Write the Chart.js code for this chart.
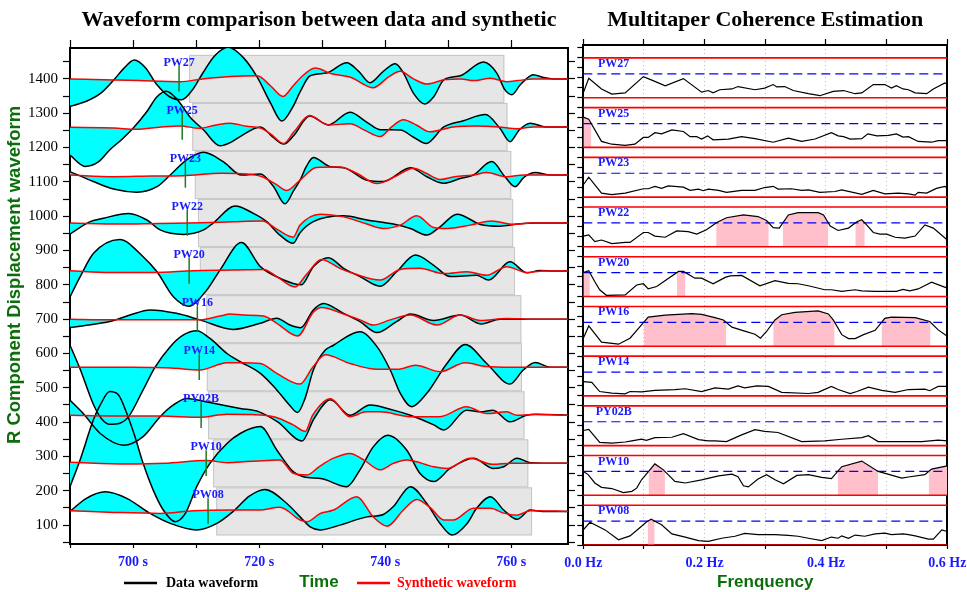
<!DOCTYPE html>
<html>
<head>
<meta charset="utf-8">
<script src="https://cdn.jsdelivr.net/npm/chart.js"></script>
<style>
  html, body { margin: 0; padding: 0; background: #fff; }
  #wrap { position: relative; width: 967px; height: 592px; overflow: hidden; }
  #wave { position: absolute; left: 0; top: 0; }
  #coh { position: absolute; left: 540px; top: 0; }
</style>
</head>
<body>
<div id="wrap">
  <canvas id="wave" width="575" height="592"></canvas>
  <canvas id="coh" width="427" height="592"></canvas>
</div>
<script>
// Station order, top to bottom
const traceNames = ['PW27', 'PW25', 'PW23', 'PW22', 'PW20', 'PW16', 'PW14', 'PY02B', 'PW10', 'PW08'];
const traceOffsets = [1400, 1260, 1120, 980, 840, 700, 560, 420, 280, 140];

// Time windows (s) and picks
const windowStart = [708.9, 709.4, 709.8, 710.3, 710.6, 711.6, 711.7, 711.9, 712.7, 713.2];
const windowEnd = [758.9, 759.4, 760.0, 760.3, 760.6, 761.6, 761.7, 762.1, 762.7, 763.3];
const pickTimes = [707.3, 707.8, 708.3, 708.6, 708.9, 710.2, 710.5, 710.8, 711.6, 711.9];

// Data waveforms [time, amplitude]
const dataPW27 = [[690,-80],[692.5,-66],[695,-40],[697,-2],[698.5,30],[700.2,55],[702,32],[703.7,-15],[705.8,-52],[707.7,-61],[709.5,-30],[711,15],[713,68],[715.1,92],[717.5,62],[719.7,5],[721.8,-70],[723.6,-123],[725.4,-80],[726.5,-38],[728.1,9],[730.7,17],[733.9,47],[735.8,22],[737.6,-11],[739.7,22],[741.6,44],[742.9,17],[744.5,-42],[746.3,-73],[747.7,-52],[749.3,-3],[751.9,9],[755.6,49],[757.7,17],[759,-32],[760.1,-46],[761.4,-18],[763.5,12],[765.1,4],[766.7,0],[769,0]];
const dataPW25 = [[690,-82],[692.4,-115],[694.5,-102],[696.3,-67],[698.3,-35],[700,-4],[702.2,45],[703.8,88],[705.3,104],[707,80],[709,30],[711.2,-9],[713.8,-55],[715.5,-45],[717,-28],[720.2,0],[722.2,-30],[723.9,-50],[725.5,-25],[728,32],[731,6],[734.4,43],[737,15],[739.2,-8],[742.4,-9],[744.5,-30],[746.5,-48],[749.3,0],[752.4,18],[755.9,36],[758.2,-4],[759.8,-43],[761.3,-8],[763,11],[765.5,0],[769,0]];
const dataPW23 = [[690,10],[693.7,-19],[696.9,-41],[700.6,-50],[703.8,-34],[705.9,0],[708.5,44],[711.2,66],[714.3,39],[717.2,0],[720.2,3],[722.3,-34],[724.1,-84],[725.5,-45],[726.5,-15],[727.5,25],[728.6,51],[731.3,24],[733.4,21],[737.1,-15],[739.7,-19],[744,21],[746.6,-5],[749.3,-24],[751.9,-10],[754,0],[756.9,39],[759,-5],[760.6,-34],[762,-7],[763.8,7],[766.2,0],[769,0]];
const dataPW22 = [[690,-32],[693.2,4],[695.3,14],[699.3,28],[702.2,9],[704.3,-20],[708,-33],[711.2,-20],[712.7,0],[716.2,50],[719.1,28],[721.2,4],[723.3,-35],[725.4,-59],[726.5,-28],[728.6,4],[733.4,21],[737.1,9],[741.3,-3],[744,-16],[746.6,-35],[748.7,-11],[751.4,26],[755.1,-4],[758.2,-9],[761,-3],[764,0],[769,0]];
const dataPW20 = [[690,-75],[691.6,-17],[693.7,51],[697.9,92],[701.6,42],[703.8,-2],[706.4,-75],[708.8,-102],[711.7,-55],[713.8,3],[717.2,83],[720.2,13],[722.3,-12],[725.4,-36],[726.7,-40],[728.6,13],[731,39],[733.4,8],[736,-16],[739.2,-44],[741.8,-2],[744.8,47],[747.7,17],[750.3,-16],[754.5,-12],[756.4,-26],[759.8,27],[762.5,-5],[764.5,2],[766.7,0],[769,0]];
const dataPW16 = [[690,-24],[693,-17],[696.3,-7],[699.5,12],[702.7,27],[706.9,17],[710.6,-2],[715.9,-30],[720.2,-12],[722.8,3],[724.9,-17],[726.6,-25],[728.6,27],[730.2,46],[733.4,17],[736,-7],[738.7,-39],[741.8,-7],[744,15],[747.7,-4],[751.9,12],[755.3,-14],[758.2,0],[769,0]];
const dataPW14 = [[690,64],[691.6,-5],[693.7,-108],[695,-150],[696.3,-166],[697.9,-163],[699.3,-144],[701.6,-66],[703.5,0],[705.9,60],[708,94],[710.1,106],[712.2,84],[714.9,40],[717,16],[720.2,-18],[722.8,-66],[724.8,-110],[726.1,-132],[727.3,-90],[728.6,-8],[730.5,50],[731.8,64],[734.4,94],[736,103],[738.7,60],[740.8,-8],[742.4,-76],[744.2,-115],[746.6,-76],[749.8,11],[752.7,66],[756.1,11],[759.8,-49],[761.9,-8],[763.8,14],[766.2,0],[769,0]];
const dataPY02B = [[690,44],[692.1,5],[694.8,-53],[698.5,-87],[701.6,-62],[704.3,-4],[706.4,30],[708.5,49],[712.2,37],[717,20],[720,10],[723,-20],[726.8,-75],[728.7,-10],[731.3,45],[734.4,0],[737.6,30],[741.3,15],[744,0],[747.7,-28],[749.3,-43],[752.9,15],[755.2,10],[757.1,15],[759.8,-19],[762.4,0],[764,3],[769,0]];
const dataPW10 = [[690,-68],[691.6,10],[693.7,126],[694.8,170],[696.3,209],[697.7,199],[699,146],[700.3,78],[701.6,0],[703.2,-78],[704.8,-136],[706.7,-170],[708.3,-146],[710.1,-68],[712.2,0],[714.9,58],[717,87],[720.2,107],[722.8,39],[725.4,-24],[727,-39],[730,-45],[733.9,-68],[736,-19],[738.1,48],[740.4,82],[743.4,39],[745.5,-29],[747.7,-53],[750.3,-15],[754,15],[757.2,-15],[758.8,-10],[760.9,15],[763,2],[769,0]];
const dataPW08 = [[690,0],[692.6,38],[695.6,57],[699,38],[702.7,-6],[705.9,-35],[710.1,-54],[713.3,-35],[715.9,0],[718.5,45],[720.9,64],[724.4,23],[726.5,-16],[728.1,-45],[729.7,-54],[732.8,-40],[737.1,-16],[739.7,-9],[741.3,14],[744,72],[746.6,23],[748.7,-35],[750.6,-69],[753,-35],[754.5,9],[756.7,43],[758.8,4],[760.9,-23],[763,4],[765,0],[769,0]];

// Synthetic waveforms [time, amplitude]
const synPW27 = [[690,0],[697,-3],[701,-5],[707.5,-8],[711,0],[715.5,7],[719.7,9],[721.8,-20],[723.8,-51],[725.4,-20],[726.5,2],[728.9,32],[731.5,15],[734.5,5],[738.1,-26],[740.5,5],[742.4,22],[744.5,0],[746.6,-15],[749.5,-2],[752,0],[754,-5],[756.7,2],[759.3,-8],[761,-5],[763.5,0],[769,0]];
const synPW25 = [[690,-1],[697,-3],[700.5,-7],[704.5,0],[707.5,3],[710.5,-4],[713,5],[715.4,11],[718,2],[720.2,-3],[721.8,-20],[723.9,-48],[725.5,-15],[728,33],[731,6],[734.4,9],[736.8,-10],[739.2,-28],[741,0],[742.9,21],[745,5],[747.1,-14],[750.8,0],[754.5,3],[758,0],[761,-5],[763.5,0],[769,0]];
const synPW23 = [[690,0],[697,-5],[703,-3],[708,-2],[714,5],[718,3],[720.5,-5],[722.5,-25],[724.4,-45],[726.5,-15],[729.1,22],[732.8,23],[735.5,5],[738.7,-25],[741.5,-5],[744.5,20],[746.5,5],[748.7,-13],[751,-5],[754,0],[756.1,7],[759.3,-5],[762,0],[769,0]];
const synPW22 = [[690,0],[698,-3],[704,-1],[711,1],[716,4],[720.5,6],[723,-20],[725.4,-41],[726.5,-6],[729.7,26],[733.4,18],[737.1,-3],[739.7,-16],[742.4,-6],[745,21],[747.7,-13],[749.8,-16],[753.5,-6],[756.9,6],[760.4,-4],[763,0],[769,0]];
const synPW20 = [[690,1],[696.3,-4],[703.2,-4],[709.6,1],[715.9,3],[720.7,5],[722.8,-16],[725.7,-46],[727.5,-10],[729.9,34],[732.8,8],[735,-7],[739.2,-26],[742.4,5],[745.5,8],[749.3,-7],[753,-2],[756.1,-12],[759.3,13],[762.5,-4],[765,0],[769,0]];
const synPW16 = [[690,0],[696.3,-2],[703,-2],[710.6,-2],[713.8,9],[715.4,15],[717.5,12],[720.7,9],[722.8,-12],[726.1,-49],[728.6,20],[729.9,34],[733.4,15],[736,-2],[738.1,-17],[740.8,-2],[744,12],[748.2,-17],[751.9,12],[755.1,-4],[759.3,2],[763,0],[769,0]];
const synPW14 = [[690,0],[700,0],[706,-2],[710.6,-8],[714.9,13],[717,13],[720.2,11],[722.8,-18],[726.5,-49],[728.5,0],[730.5,36],[734.4,11],[738.7,-6],[742,-6],[744.8,6],[748.7,-13],[752.7,13],[756,2],[760,0],[769,0]];
const synPY02B = [[690,0],[697,-2],[704.3,-2],[710.6,-6],[714.9,3],[719,2],[722.5,-5],[725.4,-28],[727.3,-47],[728.5,0],[731.3,48],[734.4,-4],[737,10],[739.2,10],[744,-4],[748.7,-4],[752.9,25],[756.1,5],[759.3,10],[760.9,0],[763.5,2],[769,0]];
const synPW10 = [[690,3],[699,-2],[705,0],[711.7,8],[715,2],[718,5],[721.2,8],[723.3,10],[725.4,-29],[727.6,-34],[729.5,-10],[731.8,15],[734.4,29],[736.6,10],[739.2,-19],[741.3,0],[743.4,10],[747.7,-10],[749.8,-15],[753.5,15],[757,-3],[760,0],[769,0]];
const synPW08 = [[690,2],[697,-3],[704.3,-6],[709.6,2],[716,4],[720,4],[723.3,12],[726.5,-25],[727.6,-30],[729.7,-6],[731.8,4],[735.5,43],[738.1,-16],[740.3,-43],[742.9,4],[745,35],[747.2,10],[749.3,-25],[750.8,-25],[754,9],[756.7,9],[758.8,-5],[760.9,-11],[763,2],[769,0]];

const dataWaves = [dataPW27, dataPW25, dataPW23, dataPW22, dataPW20, dataPW16, dataPW14, dataPY02B, dataPW10, dataPW08];
const synWaves = [synPW27, synPW25, synPW23, synPW22, synPW20, synPW16, synPW14, synPY02B, synPW10, synPW08];

// Coherence [frequency Hz, coherence]
const cohThreshold = 0.6;
const cohPW27 = [[0,0.12],[0.009,0.49],[0.03,0.22],[0.047,0.09],[0.069,0.12],[0.099,0.53],[0.115,0.43],[0.135,0.30],[0.165,0.48],[0.195,0.14],[0.206,0.18],[0.214,0.12],[0.225,0.2],[0.245,0.22],[0.255,0.28],[0.283,0.2],[0.299,0.24],[0.313,0.33],[0.319,0.27],[0.332,0.28],[0.346,0.18],[0.371,0.1],[0.39,0.05],[0.412,0.16],[0.429,0.18],[0.448,0.1],[0.459,0.12],[0.478,0.33],[0.497,0.33],[0.508,0.24],[0.516,0.3],[0.527,0.22],[0.536,0.2],[0.547,0.12],[0.566,0.1],[0.577,0.22],[0.596,0.37],[0.6,0.34]];
const cohPW25 = [[0,0.76],[0.009,0.71],[0.03,0.15],[0.047,0.08],[0.069,0.05],[0.085,0.08],[0.099,0.25],[0.107,0.25],[0.118,0.37],[0.129,0.34],[0.146,0.44],[0.165,0.4],[0.176,0.27],[0.187,0.27],[0.195,0.21],[0.205,0.29],[0.214,0.19],[0.239,0.21],[0.261,0.27],[0.283,0.22],[0.313,0.13],[0.338,0.23],[0.36,0.15],[0.382,0.21],[0.409,0.37],[0.42,0.29],[0.429,0.27],[0.44,0.21],[0.459,0.22],[0.469,0.34],[0.484,0.29],[0.503,0.3],[0.516,0.34],[0.527,0.26],[0.536,0.27],[0.552,0.15],[0.574,0.13],[0.585,0.17],[0.6,0.17]];
const cohPW23 = [[0,0.31],[0.009,0.5],[0.03,0.1],[0.047,0.06],[0.069,0.1],[0.099,0.21],[0.107,0.21],[0.118,0.27],[0.129,0.22],[0.14,0.28],[0.165,0.25],[0.176,0.17],[0.19,0.2],[0.198,0.16],[0.206,0.2],[0.223,0.17],[0.236,0.12],[0.261,0.17],[0.283,0.17],[0.299,0.24],[0.313,0.27],[0.321,0.2],[0.343,0.21],[0.36,0.17],[0.371,0.18],[0.39,0.12],[0.415,0.14],[0.426,0.18],[0.459,0.07],[0.478,0.17],[0.497,0.08],[0.519,0.1],[0.536,0.08],[0.547,0.05],[0.552,0.12],[0.566,0.1],[0.582,0.22],[0.596,0.27],[0.6,0.22]];
const cohPW22 = [[0,0.27],[0.009,0.3],[0.019,0.13],[0.03,0.17],[0.047,0.08],[0.069,0.11],[0.077,0.11],[0.099,0.36],[0.107,0.36],[0.118,0.27],[0.135,0.24],[0.154,0.4],[0.173,0.38],[0.187,0.32],[0.203,0.43],[0.22,0.61],[0.236,0.73],[0.264,0.8],[0.288,0.76],[0.302,0.66],[0.313,0.48],[0.323,0.47],[0.338,0.8],[0.354,0.86],[0.387,0.86],[0.396,0.8],[0.407,0.52],[0.42,0.41],[0.437,0.47],[0.451,0.63],[0.459,0.68],[0.467,0.55],[0.478,0.36],[0.489,0.32],[0.5,0.32],[0.514,0.24],[0.53,0.22],[0.547,0.27],[0.563,0.55],[0.577,0.47],[0.6,0.17]];
const cohPW20 = [[0,0.6],[0.009,0.65],[0.019,0.37],[0.027,0.17],[0.038,0.03],[0.069,0.04],[0.088,0.29],[0.099,0.32],[0.107,0.19],[0.121,0.25],[0.137,0.42],[0.157,0.63],[0.165,0.63],[0.184,0.46],[0.195,0.46],[0.214,0.32],[0.234,0.48],[0.242,0.52],[0.261,0.53],[0.291,0.27],[0.316,0.4],[0.338,0.33],[0.354,0.32],[0.371,0.27],[0.398,0.17],[0.409,0.17],[0.426,0.13],[0.448,0.17],[0.459,0.14],[0.481,0.13],[0.516,0.13],[0.527,0.18],[0.538,0.14],[0.552,0.19],[0.574,0.36],[0.6,0.21]];
const cohPW16 = [[0,0.2],[0.009,0.51],[0.03,0.1],[0.058,0.05],[0.077,0.2],[0.091,0.45],[0.107,0.73],[0.135,0.78],[0.179,0.82],[0.195,0.8],[0.217,0.72],[0.231,0.66],[0.245,0.48],[0.266,0.38],[0.283,0.3],[0.292,0.2],[0.302,0.37],[0.316,0.66],[0.327,0.79],[0.349,0.85],[0.387,0.89],[0.404,0.81],[0.412,0.66],[0.426,0.29],[0.437,0.19],[0.448,0.19],[0.462,0.29],[0.481,0.4],[0.497,0.7],[0.508,0.73],[0.547,0.72],[0.571,0.62],[0.585,0.41],[0.6,0.25]];
const cohPW14 = [[0,0.36],[0.014,0.34],[0.027,0.11],[0.047,0.07],[0.069,0.05],[0.077,0.11],[0.096,0.1],[0.118,0.14],[0.151,0.16],[0.168,0.18],[0.195,0.11],[0.217,0.2],[0.239,0.17],[0.255,0.25],[0.266,0.2],[0.286,0.25],[0.305,0.24],[0.327,0.09],[0.371,0.06],[0.387,0.09],[0.409,0.24],[0.42,0.16],[0.44,0.06],[0.451,0.11],[0.47,0.22],[0.492,0.14],[0.514,0.09],[0.536,0.16],[0.563,0.17],[0.571,0.13],[0.585,0.24],[0.6,0.24]];
const cohPY02B = [[0,0.38],[0.009,0.41],[0.027,0.08],[0.047,0.06],[0.069,0.09],[0.08,0.12],[0.096,0.16],[0.104,0.13],[0.118,0.2],[0.146,0.21],[0.165,0.3],[0.19,0.15],[0.206,0.12],[0.217,0.12],[0.236,0.1],[0.261,0.27],[0.283,0.4],[0.299,0.36],[0.321,0.33],[0.36,0.1],[0.398,0.12],[0.426,0.16],[0.459,0.2],[0.47,0.25],[0.486,0.1],[0.514,0.1],[0.558,0.1],[0.585,0.14],[0.6,0.12]];
const cohPW10 = [[0,0.6],[0.008,0.52],[0.019,0.31],[0.03,0.2],[0.047,0.17],[0.066,0.07],[0.08,0.1],[0.088,0.18],[0.096,0.39],[0.118,0.79],[0.132,0.64],[0.151,0.35],[0.168,0.31],[0.195,0.39],[0.223,0.49],[0.245,0.53],[0.255,0.47],[0.264,0.24],[0.272,0.21],[0.288,0.41],[0.302,0.52],[0.316,0.39],[0.33,0.29],[0.352,0.5],[0.371,0.52],[0.393,0.45],[0.409,0.42],[0.426,0.72],[0.459,0.86],[0.486,0.6],[0.525,0.43],[0.536,0.46],[0.563,0.52],[0.574,0.66],[0.6,0.74]];
const cohPW08 = [[0,0.38],[0.011,0.57],[0.036,0.38],[0.058,0.13],[0.077,0.23],[0.096,0.47],[0.104,0.58],[0.112,0.65],[0.121,0.57],[0.129,0.51],[0.146,0.28],[0.168,0.2],[0.19,0.11],[0.206,0.09],[0.228,0.17],[0.25,0.22],[0.266,0.29],[0.288,0.26],[0.316,0.26],[0.338,0.24],[0.354,0.22],[0.371,0.17],[0.393,0.11],[0.409,0.2],[0.42,0.17],[0.426,0.23],[0.437,0.17],[0.448,0.25],[0.464,0.22],[0.481,0.28],[0.497,0.3],[0.508,0.26],[0.527,0.28],[0.536,0.26],[0.547,0.23],[0.569,0.15],[0.577,0.15],[0.591,0.38],[0.6,0.34]];
const cohCurves = [cohPW27, cohPW25, cohPW23, cohPW22, cohPW20, cohPW16, cohPW14, cohPY02B, cohPW10, cohPW08];

// Styling
const serif = '"Liberation Serif", "Times New Roman", serif';
const sans = '"Liberation Sans", Arial, sans-serif';
const tickBlue = '#1a1aff';
const titleGreen = '#0b6e0b';
const windowHalf = 70;   // half height of the grey window band (amplitude units)
const panelScale = 0.8;  // height of one coherence panel (y units)

Chart.defaults.font.family = serif;
Chart.defaults.color = '#000';

const frame = { color: '#000', width: 2 };
const tickGrid = (len) => ({ drawOnChartArea: false, tickLength: len, tickColor: '#000', tickWidth: 1.2 });
// keep edge tick labels from shrinking the plot area
const noEdgePad = s => { s.paddingLeft = 0; s.paddingRight = 0; };

/* ---------------- Waveform comparison ---------------- */

const waveDatasets = [];
traceNames.forEach((name, i) => {
  const base = traceOffsets[i];
  const synIndex = waveDatasets.length;
  waveDatasets.push({
    label: name + ' synthetic',
    data: synWaves[i].map(p => ({ x: p[0], y: base + p[1] })),
    borderColor: '#ff0000',
    borderWidth: 1.5,
    pointRadius: 0,
    cubicInterpolationMode: 'monotone',
    fill: false,
    order: 1
  });
  waveDatasets.push({
    label: name + ' data',
    data: dataWaves[i].map(p => ({ x: p[0], y: base + p[1] })),
    borderColor: '#000',
    borderWidth: 1.5,
    pointRadius: 0,
    cubicInterpolationMode: 'monotone',
    fill: { target: synIndex },
    backgroundColor: '#00ffff',
    order: 2
  });
});

const wavePlugin = {
  id: 'waveDecor',
  beforeDraw(chart) {
    // grey measurement windows
    const { ctx, scales: { x, y } } = chart;
    ctx.save();
    traceNames.forEach((name, i) => {
      const x0 = x.getPixelForValue(windowStart[i]);
      const x1 = x.getPixelForValue(windowEnd[i]);
      const y0 = y.getPixelForValue(traceOffsets[i] + windowHalf);
      const y1 = y.getPixelForValue(traceOffsets[i] - windowHalf);
      ctx.fillStyle = '#e6e6e6';
      ctx.fillRect(x0, y0, x1 - x0, y1 - y0);
      ctx.strokeStyle = '#c6c6c6';
      ctx.lineWidth = 1;
      ctx.strokeRect(x0 + 0.5, y0 + 0.5, x1 - x0 - 1, y1 - y0 - 1);
    });
    ctx.restore();
  },
  afterDatasetsDraw(chart) {
    // pick markers and station names
    const { ctx, scales: { x, y } } = chart;
    ctx.save();
    ctx.font = `bold 12px ${serif}`;
    ctx.textAlign = 'center';
    ctx.textBaseline = 'middle';
    traceNames.forEach((name, i) => {
      const px = x.getPixelForValue(pickTimes[i]);
      ctx.strokeStyle = '#1f7a1f';
      ctx.lineWidth = 1.5;
      ctx.beginPath();
      ctx.moveTo(px, y.getPixelForValue(traceOffsets[i] + 38));
      ctx.lineTo(px, y.getPixelForValue(traceOffsets[i] - 37));
      ctx.stroke();
      ctx.fillStyle = tickBlue;
      ctx.fillText(name, px, y.getPixelForValue(traceOffsets[i] + 47));
    });
    ctx.restore();
  },
  afterDraw(chart) {
    const { ctx, chartArea: a } = chart;
    const cx = (a.left + a.right) / 2;
    ctx.save();
    ctx.textBaseline = 'middle';
    ctx.textAlign = 'center';
    ctx.fillStyle = '#000';
    ctx.font = `bold 22px ${serif}`;
    ctx.fillText('Waveform comparison between data and synthetic', cx, 20);

    ctx.fillStyle = titleGreen;
    ctx.font = `bold 17px ${sans}`;
    ctx.fillText('Time', cx, 582);

    ctx.save();
    ctx.translate(15, 275);
    ctx.rotate(-Math.PI / 2);
    ctx.font = `bold 18.5px ${sans}`;
    ctx.fillText('R Component Displacement waveform', 0, 0);
    ctx.restore();

    // legend
    ctx.lineWidth = 2.5;
    ctx.strokeStyle = '#000';
    ctx.beginPath(); ctx.moveTo(124, 583); ctx.lineTo(157, 583); ctx.stroke();
    ctx.strokeStyle = '#ff0000';
    ctx.beginPath(); ctx.moveTo(357, 583); ctx.lineTo(390, 583); ctx.stroke();
    ctx.textAlign = 'left';
    ctx.font = `bold 14px ${serif}`;
    ctx.fillStyle = '#000';
    ctx.fillText('Data waveform', 166, 583);
    ctx.fillStyle = '#ff0000';
    ctx.fillText('Synthetic waveform', 397, 583);
    ctx.restore();
  }
};

new Chart(document.getElementById('wave'), {
  type: 'line',
  data: { datasets: waveDatasets },
  options: {
    responsive: false,
    animation: false,
    layout: { padding: 0 },
    plugins: {
      legend: { display: false },
      tooltip: { enabled: false },
      filler: { drawTime: 'beforeDatasetsDraw' }
    },
    scales: {
      x: {
        type: 'linear', position: 'bottom', min: 690, max: 769,
        afterFit: s => { s.height = 48; noEdgePad(s); },
        ticks: {
          stepSize: 10, includeBounds: false, autoSkip: false, maxRotation: 0, padding: 6,
          color: tickBlue, font: { size: 14, weight: 'bold' },
          callback: v => (v % 20 === 0 ? v + ' s' : '')
        },
        grid: tickGrid(4),
        border: frame
      },
      xTop: {
        type: 'linear', position: 'top', min: 690, max: 769,
        afterFit: s => { s.height = 48; noEdgePad(s); },
        ticks: { display: false, stepSize: 10, includeBounds: false, autoSkip: false },
        grid: tickGrid(8),
        border: frame
      },
      y: {
        type: 'linear', position: 'left', min: 45, max: 1490,
        afterFit: s => { s.width = 70; },
        ticks: {
          stepSize: 50, includeBounds: false, autoSkip: false, padding: 5,
          color: '#000', font: { size: 15 },
          callback: v => (v % 100 === 0 ? String(v) : '')
        },
        grid: tickGrid(7),
        border: frame
      },
      yRight: {
        type: 'linear', position: 'right', min: 45, max: 1490,
        afterFit: s => { s.width = 7; },
        ticks: { display: false, stepSize: 50, includeBounds: false, autoSkip: false },
        grid: tickGrid(7),
        border: frame
      }
    }
  },
  plugins: [wavePlugin]
});

/* ---------------- Multitaper coherence ---------------- */

const panelBase = k => traceNames.length - 1 - k;

// portion of a coherence curve above the threshold, closed at the crossings
function pinkPoints(coh, base) {
  const pts = [];
  let prev = null;
  coh.forEach(([f, c]) => {
    const above = c >= cohThreshold;
    if (prev) {
      const [pf, pc] = prev;
      if (above !== (pc >= cohThreshold)) {
        const fx = pf + (cohThreshold - pc) / (c - pc) * (f - pf);
        pts.push({ x: fx, y: base + cohThreshold * panelScale });
        if (!above) pts.push({ x: fx, y: null });
      }
    }
    if (above) pts.push({ x: f, y: base + c * panelScale });
    prev = [f, c];
  });
  return pts;
}

const hline = (yv, color, width, dash) => ({
  data: [{ x: 0, y: yv }, { x: 0.6, y: yv }],
  borderColor: color, borderWidth: width, borderDash: dash,
  pointRadius: 0, fill: false, order: 2
});

const cohDatasets = [];
cohCurves.forEach((coh, k) => {
  const base = panelBase(k);
  cohDatasets.push({
    data: pinkPoints(coh, base),
    fill: { value: base },
    backgroundColor: '#ffc0cb',
    borderWidth: 0,
    pointRadius: 0,
    spanGaps: false,
    order: 3
  });
  cohDatasets.push(hline(base + panelScale, '#ff0000', 1.6, []));
  cohDatasets.push(hline(base, '#ff0000', 1.6, []));
  cohDatasets.push(hline(base + cohThreshold * panelScale, '#0000ff', 1.2, [9, 5]));
  cohDatasets.push({
    data: coh.map(([f, c]) => ({ x: f, y: base + c * panelScale })),
    borderColor: '#000',
    borderWidth: 1.2,
    pointRadius: 0,
    tension: 0,
    fill: false,
    order: 1
  });
});

const cohPlugin = {
  id: 'cohDecor',
  afterDatasetsDraw(chart) {
    const { ctx, scales: { x, y } } = chart;
    ctx.save();
    ctx.font = `bold 12px ${serif}`;
    ctx.fillStyle = tickBlue;
    ctx.textAlign = 'center';
    ctx.textBaseline = 'middle';
    traceNames.forEach((name, k) => {
      ctx.fillText(name, x.getPixelForValue(0.05), y.getPixelForValue(panelBase(k) + 0.85 * panelScale));
    });
    ctx.restore();
  },
  afterDraw(chart) {
    const { ctx, chartArea: a } = chart;
    const cx = (a.left + a.right) / 2;
    ctx.save();
    ctx.textAlign = 'center';
    ctx.textBaseline = 'middle';
    ctx.fillStyle = '#000';
    ctx.font = `bold 22px ${serif}`;
    ctx.fillText('Multitaper Coherence Estimation', cx, 20);
    ctx.fillStyle = titleGreen;
    ctx.font = `bold 17px ${sans}`;
    ctx.fillText('Frenquency', cx, 582);
    ctx.restore();
  }
};

new Chart(document.getElementById('coh'), {
  type: 'line',
  data: { datasets: cohDatasets },
  options: {
    responsive: false,
    animation: false,
    layout: { padding: { left: 35, right: 0, top: 0, bottom: 0 } },
    plugins: { legend: { display: false }, tooltip: { enabled: false } },
    scales: {
      x: {
        type: 'linear', position: 'bottom', min: 0, max: 0.6,
        afterFit: s => { s.height = 47; noEdgePad(s); },
        ticks: {
          stepSize: 0.1, includeBounds: false, autoSkip: false, maxRotation: 0, padding: 6,
          color: tickBlue, font: { size: 14, weight: 'bold' },
          callback: v => (Math.round(v * 10) % 2 === 0 ? v.toFixed(1) + ' Hz' : '')
        },
        grid: { color: '#ff9c9c', lineWidth: 1, tickLength: 4, tickColor: '#000', tickWidth: 1.2 },
        border: { color: '#000', width: 2, dash: [1, 3] }
      },
      xTop: {
        type: 'linear', position: 'top', min: 0, max: 0.6,
        afterFit: s => { s.height = 45; noEdgePad(s); },
        ticks: { display: false, stepSize: 0.1, includeBounds: false, autoSkip: false },
        grid: tickGrid(6),
        border: frame
      },
      y: {
        type: 'linear', position: 'left', min: 0, max: 10.06,
        afterFit: s => { s.width = 8.3; },
        ticks: { display: false, stepSize: 0.2, includeBounds: false, autoSkip: false },
        grid: tickGrid(6),
        border: frame
      },
      yRight: {
        type: 'linear', position: 'right', min: 0, max: 10.06,
        afterFit: s => { s.width = 19.7; },
        ticks: { display: false },
        grid: { display: false },
        border: frame
      }
    }
  },
  plugins: [cohPlugin]
});
</script>
</body>
</html>
